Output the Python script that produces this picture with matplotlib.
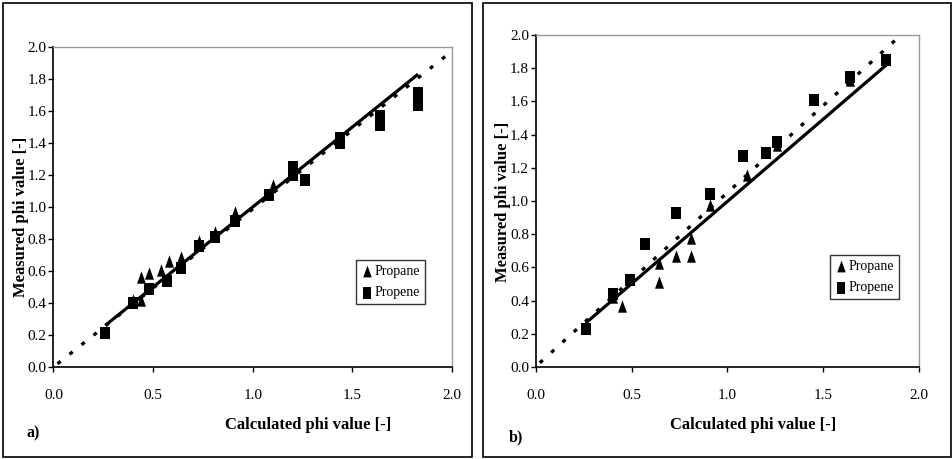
import matplotlib
matplotlib.use("Agg")
import matplotlib.pyplot as plt
from matplotlib.patches import Rectangle
from matplotlib.path import Path
import numpy as np

plt.rcParams['font.family'] = ['Liberation Serif', 'DejaVu Serif']

# ---------------- data ----------------
# panel a
a_propane_x = [0.40, 0.44, 0.44, 0.48, 0.54, 0.58, 0.64, 0.73, 0.81, 0.91, 1.10, 1.83]
a_propane_y = [0.42, 0.42, 0.565, 0.585, 0.605, 0.66, 0.69, 0.785, 0.845, 0.97, 1.14, 1.72]
a_propene_x = [0.26, 0.40, 0.48, 0.57, 0.64, 0.73, 0.81, 0.91, 1.08, 1.20, 1.20, 1.26, 1.44, 1.44, 1.64, 1.64, 1.83, 1.83]
a_propene_y = [0.21, 0.40, 0.49, 0.535, 0.62, 0.755, 0.81, 0.91, 1.075, 1.25, 1.20, 1.17, 1.43, 1.40, 1.57, 1.51, 1.71, 1.64]
a_fit_x = [0.26, 1.83]
a_fit_y = [0.26, 1.83]
a_ref_x = [0.02, 1.97]
a_ref_y = [0.02, 1.945]

# panel b
b_propane_x = [0.26, 0.40, 0.45, 0.49, 0.64, 0.64, 0.73, 0.81, 0.81, 0.91, 1.10, 1.26, 1.64]
b_propane_y = [0.25, 0.42, 0.37, 0.53, 0.515, 0.625, 0.67, 0.67, 0.78, 0.975, 1.155, 1.335, 1.73]
b_propene_x = [0.26, 0.40, 0.49, 0.57, 0.73, 0.91, 1.08, 1.20, 1.26, 1.45, 1.64, 1.83]
b_propene_y = [0.23, 0.44, 0.525, 0.74, 0.925, 1.045, 1.27, 1.29, 1.355, 1.61, 1.75, 1.85]
b_fit_x = [0.26, 1.83]
b_fit_y = [0.265, 1.82]
b_ref_x = [0.02, 1.93]
b_ref_y = [0.025, 2.025]

xticks = [0.0, 0.5, 1.0, 1.5, 2.0]
xticklabels = ["0.0", "0.5", "1.0", "1.5", "2.0"]
yticks = [0.0, 0.2, 0.4, 0.6, 0.8, 1.0, 1.2, 1.4, 1.6, 1.8, 2.0]
yticklabels = ["0.0", "0.2", "0.4", "0.6", "0.8", "1.0", "1.2", "1.4", "1.6", "1.8", "2.0"]

# ---------------- markers ----------------
tri = Path([(-0.36, -0.5), (0.36, -0.5), (0.0, 0.5), (-0.36, -0.5)],
           [Path.MOVETO, Path.LINETO, Path.LINETO, Path.CLOSEPOLY])
rect = Path([(-0.38, -0.5), (0.38, -0.5), (0.38, 0.5), (-0.38, 0.5), (-0.38, -0.5)],
            [Path.MOVETO, Path.LINETO, Path.LINETO, Path.LINETO, Path.CLOSEPOLY])

W, H = 953, 459
fig = plt.figure(figsize=(W / 100, H / 100), dpi=100)

def px_rect(x0, y0, x1, y1):
    return [x0 / W, 1 - y1 / H, (x1 - x0) / W, (y1 - y0) / H]

# outer frames
for (x0, y0, x1, y1) in [(3, 3, 472, 457), (483, 3, 951, 457)]:
    fig.patches.append(Rectangle((x0 / W, 1 - y1 / H), (x1 - x0) / W, (y1 - y0) / H,
                                 transform=fig.transFigure, fill=False,
                                 edgecolor='black', linewidth=1.2))

panels = [
    dict(rect=px_rect(53.5, 47, 452, 367), px=a_propane_x, py=a_propane_y,
         sx=a_propene_x, sy=a_propene_y, fx=a_fit_x, fy=a_fit_y,
         rx=a_ref_x, ry=a_ref_y, legend=(356, 260), letter="a)", letter_pos=(27, 433),
         xlabel_pos=(308, 425), ylabel_pos=(21, 217)),
    dict(rect=px_rect(536, 35, 919, 367), px=b_propane_x, py=b_propane_y,
         sx=b_propene_x, sy=b_propene_y, fx=b_fit_x, fy=b_fit_y,
         rx=b_ref_x, ry=b_ref_y, legend=(830, 255), letter="b)", letter_pos=(509, 437),
         xlabel_pos=(753, 425), ylabel_pos=(503, 202)),
]

for p in panels:
    ax = fig.add_axes(p['rect'])
    ax.set_xlim(0, 2.0)
    ax.set_ylim(0, 2.0)
    ax.plot(p['rx'], p['ry'], color='black', linewidth=2.4,
            linestyle=(0, (1.2, 3.4)), solid_capstyle='butt', zorder=2, clip_on=True)
    ax.plot(p['fx'], p['fy'], color='black', linewidth=2.3, zorder=3,
            solid_capstyle='butt')
    h1 = ax.scatter(p['px'], p['py'], marker=tri, s=80, color='black', zorder=4,
                    label='Propane', linewidths=0)
    h2 = ax.scatter(p['sx'], p['sy'], marker=rect, s=80, color='black', zorder=4,
                    label='Propene', linewidths=0)
    ax.set_xticks(xticks)
    ax.set_xticklabels(xticklabels)
    ax.set_yticks(yticks)
    ax.set_yticklabels(yticklabels)
    ax.tick_params(direction='out', length=3.5, width=1, labelsize=11, pad=1.5,
                   colors='black')
    ax.tick_params(axis='x', pad=12)
    for s in ['top', 'right']:
        ax.spines[s].set_color('#9a9a9a')
        ax.spines[s].set_linewidth(1.0)
    for s in ['left', 'bottom']:
        ax.spines[s].set_color('black')
        ax.spines[s].set_linewidth(1.2)

    lx, ly = p['legend']
    leg = fig.legend(handles=[h1, h2], loc='upper left',
                     bbox_to_anchor=(lx / W, 1 - ly / H), frameon=True,
                     fancybox=False, edgecolor='black', fontsize=10,
                     handletextpad=0.1, handlelength=0.9, borderpad=0.35,
                     labelspacing=0.6, borderaxespad=0, markerscale=0.95)
    leg.get_frame().set_linewidth(1.0)

    fig.text(p['xlabel_pos'][0] / W, 1 - p['xlabel_pos'][1] / H,
             "Calculated phi value [-]", ha='center', va='center',
             fontsize=12, fontweight='bold')
    fig.text(p['ylabel_pos'][0] / W, 1 - p['ylabel_pos'][1] / H,
             "Measured phi value [-]", ha='center', va='center', rotation=90,
             fontsize=12, fontweight='bold')
    fig.text(p['letter_pos'][0] / W, 1 - p['letter_pos'][1] / H, p['letter'],
             ha='left', va='center', fontsize=11.5, fontweight='bold')

fig.savefig("out.png", dpi=100)
